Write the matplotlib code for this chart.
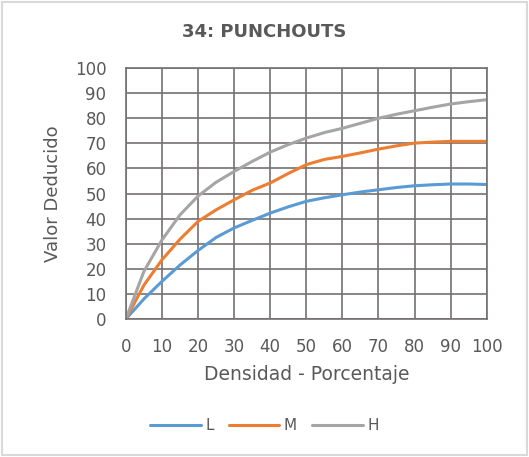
import matplotlib
matplotlib.use("Agg")
import matplotlib.pyplot as plt
from matplotlib.patches import Rectangle

x = [0, 5, 10, 15, 20, 25, 30, 35, 40, 45, 50, 55, 60, 65, 70, 75, 80, 85, 90, 95, 100]
L = [0, 8, 15, 21.5, 27.3, 32.5, 36.3, 39.3, 42.2, 44.7, 46.9, 48.3, 49.5, 50.6, 51.5, 52.4, 53.1, 53.5, 53.8, 53.8, 53.6]
M = [0, 13.5, 23.6, 31.8, 38.9, 43.5, 47.5, 51.3, 54.2, 58.0, 61.5, 63.6, 64.8, 66.2, 67.7, 69.0, 70.1, 70.5, 70.8, 70.8, 70.8]
H = [0, 19, 31.5, 41.5, 49.0, 54.5, 58.8, 62.8, 66.5, 69.5, 72.1, 74.3, 76.0, 78.0, 80.0, 81.6, 83.0, 84.4, 85.7, 86.6, 87.4]
series_names = ["L", "M", "H"]
colors = ["#5B9BD5", "#ED7D31", "#A5A5A5"]
xticks = list(range(0, 101, 10))
yticks = list(range(0, 101, 10))

plt.rcParams['font.family'] = ['DejaVu Sans']
txt = "#595959"
gridc = "#767171"

fig = plt.figure(figsize=(5.29, 4.57), dpi=100)
ax = fig.add_axes([0.238, 0.302, 0.682, 0.549])

for ys, name, c in zip([L, M, H], series_names, colors):
    ax.plot(x, ys, color=c, lw=2.2, label=name, solid_capstyle='round')

ax.set_xlim(0, 100)
ax.set_ylim(0, 100)
ax.set_xticks(xticks)
ax.set_yticks(yticks)
ax.grid(True, color=gridc, lw=1.2)
ax.set_axisbelow(True)
for s in ax.spines.values():
    s.set_color(gridc)
    s.set_linewidth(1.2)
ax.tick_params(length=0, colors=txt, labelsize=12)
ax.tick_params(axis='y', pad=14)
ax.tick_params(axis='x', pad=14)
ax.set_xlabel("Densidad - Porcentaje", color=txt, fontsize=13.5, labelpad=6)
ax.set_ylabel("Valor Deducido", color=txt, fontsize=13, labelpad=9)
fig.text(0.5, 0.93, "34: PUNCHOUTS", ha='center', va='center', fontsize=13, fontweight='bold', color=txt)

leg = fig.legend(loc='center', bbox_to_anchor=(0.5, 0.068), ncol=3, frameon=False,
                 fontsize=11, handlelength=3.3, handletextpad=0.3, columnspacing=1.0)
for t in leg.get_texts():
    t.set_color(txt)

fig.patches.append(Rectangle((0.004, 0.004), 0.992, 0.992, transform=fig.transFigure,
                             fill=False, edgecolor="#D9D9D9", lw=1.5))
fig.savefig("out.png", dpi=100, facecolor="white")
